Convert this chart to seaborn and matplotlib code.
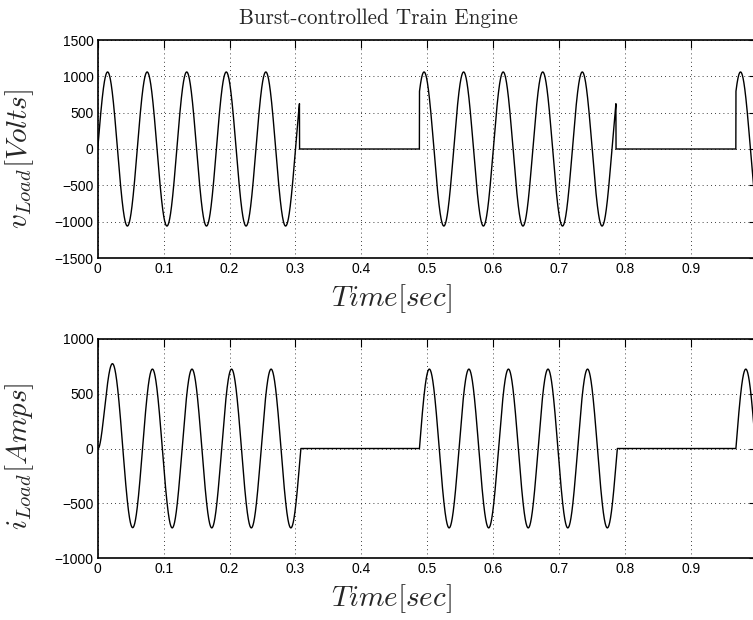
import numpy as np
import matplotlib
matplotlib.use("Agg")
import matplotlib.pyplot as plt
import seaborn as sns

# ---- values ----
period_s = 0.06                      # 16 2/3 Hz supply
v_peak = 1060.0                      # voltage amplitude [V]
i_peak = 725.0                       # current amplitude [A]
i_lag_s = 0.008                      # current lags voltage
i_offset0 = 539.0                    # initial DC offset of first burst [A]
i_offset_tau = 0.0095                # decay of that offset [s]
v_on = [0.0, 0.488, 0.968]           # voltage burst starts [s]
v_off = [0.306, 0.786, 1.0]          # voltage burst ends [s]
i_on = [0.0, 0.488, 0.968]           # current burst starts [s]
i_off = [0.308, 0.788, 1.0]          # current burst ends [s]
x_ticks = [0, 0.1, 0.2, 0.3, 0.4, 0.5, 0.6, 0.7, 0.8, 0.9, 1.0]
x_ticklabels = ["0", "0.1", "0.2", "0.3", "0.4", "0.5", "0.6", "0.7", "0.8", "0.9", "1"]
v_ticks = [-1500, -1000, -500, 0, 500, 1000, 1500]
i_ticks = [-1000, -500, 0, 500, 1000]
title_text = "Burst-controlled Train Engine"

# ---- build waveforms from the read parameters ----
t = np.linspace(0, 1.0, 10001)
w = 2 * np.pi / period_s
v_on_mask = np.zeros_like(t, dtype=bool)
for a, b in zip(v_on, v_off):
    v_on_mask |= (t >= a) & (t <= b)
i_on_mask = np.zeros_like(t, dtype=bool)
for a, b in zip(i_on, i_off):
    i_on_mask |= (t >= a) & (t <= b)
v = np.where(v_on_mask, v_peak * np.sin(w * t), 0.0)
i_ss = i_peak * np.sin(w * (t - i_lag_s))
i_tr = np.where(t <= i_off[0], i_offset0 * np.exp(-t / i_offset_tau), 0.0)
i = np.where(i_on_mask, i_ss + i_tr, 0.0)

sns.set_style("white")
plt.rcParams["font.family"] = ["Liberation Sans", "DejaVu Sans"]
plt.rcParams["mathtext.fontset"] = "cm"

fig = plt.figure(figsize=(7.53, 6.2), dpi=100)
right_px = 757.0
ax1 = fig.add_axes([97.7 / 753, 1 - 258 / 620, (right_px - 97.7) / 753, 218 / 620])
ax2 = fig.add_axes([97.7 / 753, 1 - 558 / 620, (right_px - 97.7) / 753, 219 / 620])

sns.lineplot(x=t, y=v, ax=ax1, color="black", linewidth=1.0, estimator=None, sort=False)
sns.lineplot(x=t, y=i, ax=ax2, color="black", linewidth=1.0, estimator=None, sort=False)

for ax, yt, ylab, ypos in [(ax1, v_ticks, r"$v_{Load}[Volts]$", 0.452),
                           (ax2, i_ticks, r"$i_{Load}[Amps]$", 0.466)]:
    ax.set_xlim(0, 1.0)
    ax.set_ylim(yt[0], yt[-1])
    ax.set_xticks(x_ticks)
    ax.set_xticklabels(x_ticklabels)
    ax.set_yticks(yt)
    ax.set_yticklabels([f"{y:d}".replace("-", "\u2212") for y in yt])
    ax.tick_params(direction="in", length=6, width=0.8, labelsize=10,
                   top=True, right=True, colors="black", pad=3)
    ax.grid(True, color="black", linestyle=(0, (1, 4)), linewidth=0.6)
    for s in ax.spines.values():
        s.set_visible(True)
        s.set_color("black")
        s.set_linewidth(1.2)
    ax.set_xlabel(r"$Time[sec]$", fontsize=21, labelpad=4)
    ax.set_ylabel(ylab, fontsize=21, labelpad=13)
    ax.xaxis.label.set_x(0.446)
    ax.yaxis.label.set_y(ypos)

fig.text(378 / 753, 1 - 18 / 620, title_text, family="cmr10", fontsize=15.2,
         ha="center", va="center")

fig.savefig("out.png", dpi=100)
